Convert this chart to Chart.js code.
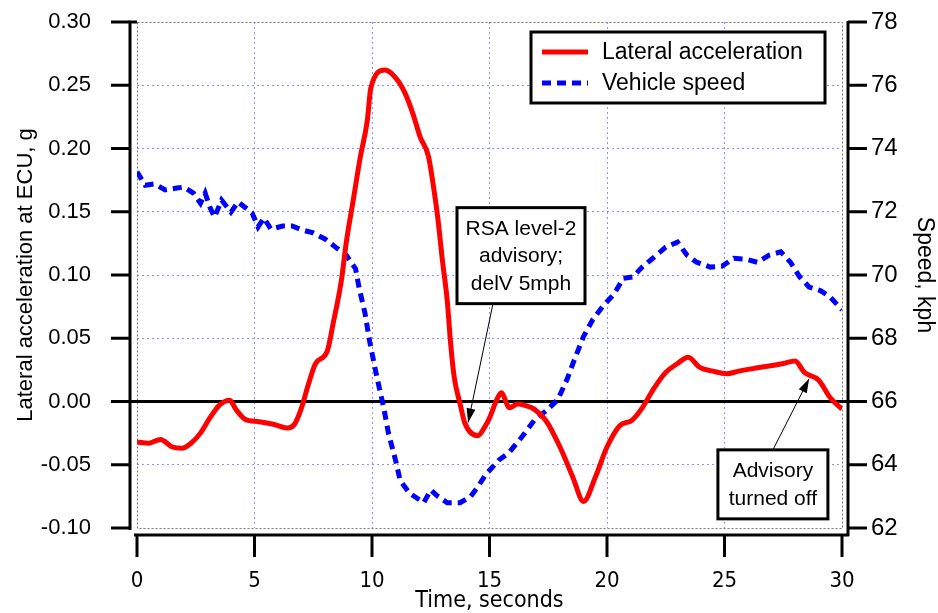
<!DOCTYPE html>
<html>
<head>
<meta charset="utf-8">
<title>Lateral acceleration and vehicle speed</title>
<script src="https://cdn.jsdelivr.net/npm/chart.js@4.4.1/dist/chart.umd.min.js"></script>
<style>
  html, body { margin:0; padding:0; background:#fff; }
  #wrap { width:938px; height:613px; position:relative; }
</style>
</head>
<body>
<div id="wrap"><canvas id="chart" width="938" height="613"></canvas></div>
<script>
// lateral acceleration (g)
const accelTime = [0, 0.5, 1.0, 1.5, 1.9, 2.3, 2.7, 3.1, 3.5, 3.95, 4.2, 4.6, 5.2, 5.8, 6.4, 6.7, 7.0, 7.3, 7.6, 8.1,
  8.35, 8.7, 8.9, 9.2, 9.5, 9.8, 9.95, 10.55, 11.0, 11.4, 11.75, 12.05, 12.4, 12.6, 12.8, 13.0, 13.2, 13.35, 13.5, 13.75,
  13.95, 14.5, 14.8, 15.0, 15.3, 15.5, 15.85, 16.2, 16.5, 16.9, 17.4, 18.0, 18.55, 19.0, 19.5, 20.0, 20.55, 21.05, 21.5, 21.95,
  22.5, 23.0, 23.45, 23.95, 24.5, 25.1, 25.6, 26.2, 26.9, 27.5, 28.0, 28.4, 29.0, 29.5, 30.0];
const accelG = [-0.032, -0.033, -0.030, -0.036, -0.037, -0.033, -0.025, -0.013, -0.003, 0.001, -0.006, -0.014, -0.016, -0.018, -0.021, -0.018, -0.005, 0.014, 0.030, 0.040,
  0.062, 0.096, 0.125, 0.159, 0.193, 0.222, 0.248, 0.262, 0.256, 0.244, 0.227, 0.209, 0.194, 0.172, 0.145, 0.111, 0.080, 0.045, 0.019, -0.002,
  -0.017, -0.027, -0.020, -0.013, 0.001, 0.007, -0.005, -0.002, -0.003, -0.006, -0.015, -0.036, -0.060, -0.079, -0.060, -0.036, -0.019, -0.015, -0.005, 0.009,
  0.023, 0.030, 0.035, 0.027, 0.024, 0.022, 0.024, 0.026, 0.028, 0.030, 0.032, 0.023, 0.017, 0.003, -0.006];

// vehicle speed (kph)
const speedTime = [0, 0.35, 0.75, 1.2, 1.7, 2.0, 2.4, 2.7, 2.9, 3.1, 3.3, 3.6, 4.0, 4.3, 4.9, 5.15, 5.4, 5.7, 6.2, 6.6,
  7.05, 7.5, 8.0, 8.5, 8.9, 9.3, 9.45, 9.7, 9.9, 10.2, 10.5, 10.7, 11.0, 11.2, 11.6, 12.2, 12.5, 12.8, 13.2, 13.75,
  14.2, 14.5, 14.85, 15.4, 15.85, 16.4, 16.9, 17.4, 17.9, 18.3, 18.6, 19.0, 19.4, 19.8, 20.3, 20.7, 21.1, 21.5, 22.0, 22.5,
  23.0, 23.4, 23.8, 24.4, 24.9, 25.4, 25.9, 26.4, 26.9, 27.4, 27.8, 28.2, 28.6, 29.1, 29.5, 30.0];
const speedKph = [73.26, 72.84, 72.88, 72.69, 72.75, 72.78, 72.59, 72.27, 72.59, 72.15, 71.83, 72.37, 71.99, 72.31, 71.96, 71.52, 71.80, 71.45, 71.55, 71.55,
  71.42, 71.33, 71.14, 70.85, 70.63, 70.2, 69.6, 68.8, 67.9, 66.8, 65.8, 65.0, 64.15, 63.5, 63.1, 62.8, 63.2, 63.0, 62.8, 62.8,
  63.0, 63.3, 63.7, 64.15, 64.4, 64.9, 65.4, 65.7, 66.05, 66.7, 67.3, 68.05, 68.6, 68.99, 69.4, 69.9, 69.94, 70.25, 70.56, 70.88,
  71.04, 70.63, 70.41, 70.25, 70.28, 70.53, 70.5, 70.4, 70.63, 70.73, 70.41, 69.94, 69.62, 69.5, 69.3, 68.9];

// axis ranges / ticks
const timeTicks = [0, 5, 10, 15, 20, 25, 30];
const accelRange = [-0.10, 0.30];
const speedRange = [62, 78];

const seriesLabels = ['Lateral acceleration', 'Vehicle speed'];

// call-outs: text lines, box centre and arrow tip in data units (time, g)
const notes = [
  { lines: ['RSA level-2', 'advisory;', 'delV 5mph'], at: [16.34, 0.1153], tip: [14.09, -0.0166], w: 128, h: 96, tail: -28 },
  { lines: ['Advisory', 'turned off'], at: [27.06, -0.0655], tip: [28.6, 0.018], w: 110, h: 69, tail: 0 }
];

const FONT = '"Liberation Sans", Arial, sans-serif';
const NARROW = '"Liberation Sans Narrow", "Arial Narrow", "DejaVu Sans Condensed", ' + FONT;

function pts(xs, ys){ return xs.map((t, i) => ({ x: t, y: ys[i] })); }

const decor = {
  id: 'decor',
  beforeDatasetsDraw(chart){
    const { ctx, chartArea: a, scales } = chart;
    const y = scales.y;
    ctx.save();
    // dotted frame round the plot area
    ctx.strokeStyle = '#777'; ctx.lineWidth = 1; ctx.setLineDash([2, 2]);
    ctx.strokeRect(a.left + 0.5, a.top + 0.5, a.right - a.left, a.bottom - a.top);
    // zero line
    ctx.setLineDash([]);
    ctx.strokeStyle = '#000'; ctx.lineWidth = 3;
    const y0 = y.getPixelForValue(0);
    ctx.beginPath(); ctx.moveTo(a.left - 7, y0); ctx.lineTo(a.right + 6, y0); ctx.stroke();
    ctx.restore();
  },
  afterDraw(chart){
    const { ctx, chartArea: a, scales } = chart;
    const { x, y, y1 } = scales;
    ctx.save();
    ctx.strokeStyle = '#000'; ctx.lineWidth = 3; ctx.setLineDash([]);
    ctx.lineCap = 'butt';

    // left axis
    const lx = a.left - 7;
    ctx.beginPath();
    ctx.moveTo(a.left, a.top); ctx.lineTo(lx, a.top); ctx.lineTo(lx, a.bottom + 2);
    ctx.stroke();
    y.ticks.forEach(t => {
      const py = y.getPixelForValue(t.value);
      ctx.beginPath(); ctx.moveTo(lx - 19, py); ctx.lineTo(lx, py); ctx.stroke();
    });
    // right axis
    const rx = a.right + 6;
    ctx.beginPath(); ctx.moveTo(rx, a.top - 1); ctx.lineTo(rx, a.bottom + 8); ctx.stroke();
    y1.ticks.forEach(t => {
      const py = y1.getPixelForValue(t.value);
      ctx.beginPath(); ctx.moveTo(rx, py); ctx.lineTo(rx + 19, py); ctx.stroke();
    });
    // bottom axis
    const by = a.bottom + 7;
    ctx.beginPath(); ctx.moveTo(a.left - 3, by); ctx.lineTo(rx + 1, by); ctx.stroke();
    x.ticks.forEach(t => {
      const px = x.getPixelForValue(t.value);
      ctx.beginPath(); ctx.moveTo(px, by); ctx.lineTo(px, by + 22); ctx.stroke();
    });

    // legend
    const lg = { x: 531, y: 32, w: 294, h: 71 };
    ctx.fillStyle = '#fff';
    ctx.fillRect(lg.x, lg.y, lg.w, lg.h);
    ctx.strokeRect(lg.x, lg.y, lg.w, lg.h);
    ctx.font = '23px ' + FONT;
    ctx.textBaseline = 'middle'; ctx.textAlign = 'left';
    chart.data.datasets.forEach((ds, i) => {
      const ry = lg.y + 20 + i * 31;
      ctx.strokeStyle = ds.borderColor; ctx.lineWidth = 5;
      ctx.setLineDash(ds.borderDash || []);
      ctx.beginPath(); ctx.moveTo(lg.x + 11, ry); ctx.lineTo(lg.x + 57, ry); ctx.stroke();
      ctx.setLineDash([]);
      ctx.fillStyle = '#000';
      ctx.fillText(ds.label, lg.x + 71, ry + 1);
    });

    // call-outs
    ctx.font = '21px ' + FONT;
    ctx.textAlign = 'center';
    notes.forEach(n => {
      const cx = x.getPixelForValue(n.at[0]);
      const cy = y.getPixelForValue(n.at[1]);
      const tx = x.getPixelForValue(n.tip[0]);
      const ty = y.getPixelForValue(n.tip[1]);
      const boxTop = cy - n.h / 2, boxBot = cy + n.h / 2;
      const sx = cx + n.tail;
      const sy = ty > cy ? boxBot : boxTop;
      // arrow shaft
      ctx.strokeStyle = '#000'; ctx.lineWidth = 1;
      ctx.beginPath(); ctx.moveTo(sx, sy); ctx.lineTo(tx, ty); ctx.stroke();
      // arrow head
      const ang = Math.atan2(ty - sy, tx - sx);
      const L = 14, W = 4.5;
      ctx.fillStyle = '#000';
      ctx.beginPath();
      ctx.moveTo(tx, ty);
      ctx.lineTo(tx - L * Math.cos(ang) + W * Math.sin(ang), ty - L * Math.sin(ang) - W * Math.cos(ang));
      ctx.lineTo(tx - L * Math.cos(ang) - W * Math.sin(ang), ty - L * Math.sin(ang) + W * Math.cos(ang));
      ctx.closePath(); ctx.fill();
      // box
      ctx.fillStyle = '#fff';
      ctx.fillRect(cx - n.w / 2, boxTop, n.w, n.h);
      ctx.lineWidth = 3;
      ctx.strokeRect(cx - n.w / 2, boxTop, n.w, n.h);
      ctx.fillStyle = '#000';
      const lh = 27.5;
      const first = cy - (n.lines.length - 1) * lh / 2;
      n.lines.forEach((s, i) => ctx.fillText(s, cx, first + i * lh + 1));
    });
    ctx.restore();
  }
};

new Chart(document.getElementById('chart'), {
  type: 'line',
  data: {
    datasets: [
      {
        label: seriesLabels[0],
        data: pts(accelTime, accelG),
        yAxisID: 'y',
        borderColor: '#ff0000',
        borderWidth: 5,
        pointRadius: 0,
        cubicInterpolationMode: 'monotone',
        order: 1
      },
      {
        label: seriesLabels[1],
        data: pts(speedTime, speedKph),
        yAxisID: 'y1',
        borderColor: '#0000ff',
        borderWidth: 5,
        borderDash: [9, 6],
        pointRadius: 0,
        tension: 0,
        order: 2
      }
    ]
  },
  options: {
    responsive: false,
    animation: false,
    events: [],
    layout: { padding: { top: 22, left: 0, right: 0, bottom: 0 } },
    plugins: { legend: { display: false }, tooltip: { enabled: false } },
    scales: {
      x: {
        type: 'linear',
        min: 0, max: 30,
        afterBuildTicks(s){ s.ticks = timeTicks.map(v => ({ value: v })); },
        afterFit(s){ s.height = 85; s.paddingLeft = 0; s.paddingRight = 0; },
        grid: { color: ctx => (ctx.tick && (ctx.tick.value === 0 || ctx.tick.value === 30)) ? 'rgba(0,0,0,0)' : '#8f8fff', lineWidth: 1, drawTicks: false },
        border: { display: false, dash: [2, 3] },
        ticks: { padding: 40, color: '#000', font: { family: NARROW, size: 22 } },
        title: { display: true, text: 'Time, seconds', color: '#000', padding: { top: 0, bottom: 0 },
          font: { family: NARROW, size: 23, lineHeight: 1.0 } }
      },
      y: {
        position: 'left',
        min: accelRange[0], max: accelRange[1],
        ticks: { stepSize: 0.05, padding: 46, color: '#000', font: { family: FONT, size: 22 },
          callback: v => v.toFixed(2) },
        afterFit(s){ s.width = 137; s.paddingTop = 0; s.paddingBottom = 0; },
        grid: { color: ctx => (ctx.tick && (ctx.tick.value <= -0.1 || ctx.tick.value >= 0.3 || Math.abs(ctx.tick.value) < 1e-9)) ? 'rgba(0,0,0,0)' : '#8f8fff', lineWidth: 1, drawTicks: false },
        border: { display: false, dash: [2, 3] },
        title: { display: true, text: 'Lateral acceleration at ECU, g', color: '#000', padding: { top: 13, bottom: 0 },
          font: { family: FONT, size: 22, lineHeight: 1.2 } }
      },
      y1: {
        position: 'right',
        min: speedRange[0], max: speedRange[1],
        ticks: { stepSize: 2, padding: 29, color: '#000', font: { family: FONT, size: 24 } },
        afterFit(s){ s.width = 96; s.paddingTop = 0; s.paddingBottom = 0; },
        grid: { drawOnChartArea: false, drawTicks: false },
        border: { display: false },
        title: { display: true, text: 'Speed, kph', color: '#000', padding: { top: 0, bottom: 0 },
          font: { family: FONT, size: 23, lineHeight: 1.15 } }
      }
    }
  },
  plugins: [decor]
});
</script>
</body>
</html>
